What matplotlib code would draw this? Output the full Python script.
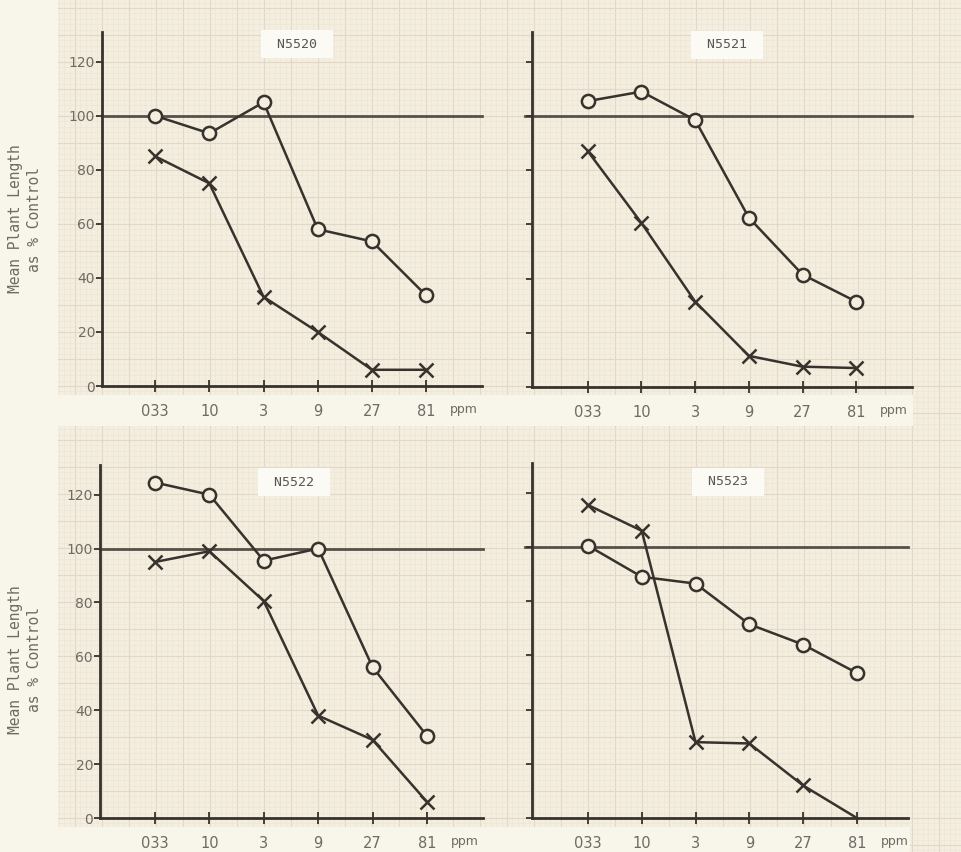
import numpy as np
import matplotlib.pyplot as plt
from matplotlib.ticker import MultipleLocator

# concentration categories on the x axis
cats = ['033', '10', '3', '9', '27', '81']

# N5520
n5520_circle = [100, 93.5, 105, 58, 53.5, 33.5]
n5520_cross = [85, 75, 33, 20, 6, 6]
# N5521
n5521_circle = [105.5, 109, 98.5, 62.5, 41.5, 31.5]
n5521_cross = [87, 60.5, 31.5, 11.5, 7.5, 7]
# N5522
n5522_circle = [124.5, 120, 95.5, 100, 56, 30.5]
n5522_cross = [95, 99, 80.5, 38, 29, 6]
# N5523
n5523_circle = [100.5, 89, 86.5, 71.5, 64, 53.5]
n5523_cross = [115.5, 106, 28, 27.5, 12, 0]

names = ['N5520', 'N5521', 'N5522', 'N5523']
circles = [n5520_circle, n5521_circle, n5522_circle, n5523_circle]
crosses = [n5520_cross, n5521_cross, n5522_cross, n5523_cross]
yticks = [0, 20, 40, 60, 80, 100, 120]

W, H = 961, 852
PAPER = '#f3eedd'
WHITE = '#f8f5ea'
INK = '#37322d'
GREY = '#6e6a64'

fig = plt.figure(figsize=(W / 100, H / 100), dpi=100)
fig.patch.set_facecolor(PAPER)

# graph paper background (pixel coordinates)
bg = fig.add_axes([0, 0, 1, 1], zorder=-5)
bg.set_xlim(0, W)
bg.set_ylim(H, 0)
bg.set_facecolor(PAPER)
bg.xaxis.set_major_locator(MultipleLocator(27, offset=102 % 27))
bg.xaxis.set_minor_locator(MultipleLocator(5.4, offset=102 % 5.4))
bg.yaxis.set_major_locator(MultipleLocator(27, offset=386 % 27))
bg.yaxis.set_minor_locator(MultipleLocator(5.4, offset=386 % 5.4))
bg.grid(which='major', color='#e4d6ca', lw=0.8)
bg.grid(which='minor', color='#ece3d6', lw=0.4)
bg.tick_params(which='both', length=0, labelbottom=False, labelleft=False)
for s in bg.spines.values():
    s.set_visible(False)
bg.axvspan(0, 58, color=WHITE, lw=0, zorder=3)
bg.axhspan(395, 426, xmin=58 / W, xmax=913 / W, color=WHITE, lw=0, zorder=3)
bg.axhspan(827, 852, xmin=58 / W, xmax=910 / W, color=WHITE, lw=0, zorder=3)

# panel frames in pixels: left, right, top, bottom, xlim, title centre
layout = [
    (102, 482, 32, 386, (-0.98, 6.03), (297, 44)),
    (532, 912, 32, 387, (-1.04, 6.04), (727, 45)),
    (100, 483, 465, 818, (-1.01, 6.03), (294, 482)),
    (532, 908, 463, 818, (-1.04, 5.95), (728, 482)),
]

for i, (l, r, t, b, xl, tpos) in enumerate(layout):
    ax = fig.add_axes([l / W, 1 - b / H, (r - l) / W, (b - t) / H])
    ax.set_facecolor('none')
    for side in ['top', 'right']:
        ax.spines[side].set_visible(False)
    for side in ['left', 'bottom']:
        ax.spines[side].set_color(INK)
        ax.spines[side].set_linewidth(2.0)
    ax.set_xlim(*xl)
    ax.set_ylim(0, 131)
    x = np.arange(len(cats))
    ax.set_xticks(x)
    ax.set_xticklabels(cats)
    ax.set_yticks(yticks)
    left_col = i % 2 == 0
    ax.tick_params(axis='x', direction='inout', length=8, width=1.3, color=INK,
                   labelcolor=GREY, labelsize=10.5, pad=9)
    ax.tick_params(axis='y', direction='out', length=4, width=1.3, color=INK,
                   labelcolor=GREY, labelsize=10, pad=1, labelleft=left_col)

    xmin = 0 if left_col else -7 / (r - l)
    ax.axhline(100, xmin=xmin, xmax=1, color='#55504a', lw=2.0, zorder=1.5,
               clip_on=False)

    ax.plot(x, crosses[i], color=INK, lw=1.8, marker='x', ms=10, mew=1.8,
            clip_on=False, zorder=3,
            markevery=[k for k in range(len(cats)) if crosses[i][k] > 0])
    ax.plot(x, circles[i], color=INK, lw=1.8, marker='o', ms=9.5, mew=1.8,
            mfc=PAPER, mec=INK, clip_on=False, zorder=4)

    ax.annotate('ppm', xy=(5, 0), xycoords=('data', 'axes fraction'),
                xytext=(38, -24), textcoords='offset pixels', ha='center',
                va='center', fontsize=9, color=GREY)

    ax.text((tpos[0] - l) / (r - l), (b - tpos[1]) / (b - t), ' ' + names[i] + ' ',
            transform=ax.transAxes, ha='center', va='center',
            family='DejaVu Sans Mono', fontsize=9.5, color='#5a5650',
            bbox=dict(boxstyle='square,pad=0.6', fc='#fbfaf4', ec='none'))

for yc in [219, 660]:
    fig.text(25 / W, 1 - yc / H, 'Mean Plant Length\nas % Control', rotation=90,
             ha='center', va='center', family='DejaVu Sans Mono', fontsize=10.5,
             linespacing=1.35, color=GREY)

fig.savefig('out.png', dpi=100, facecolor=PAPER)
